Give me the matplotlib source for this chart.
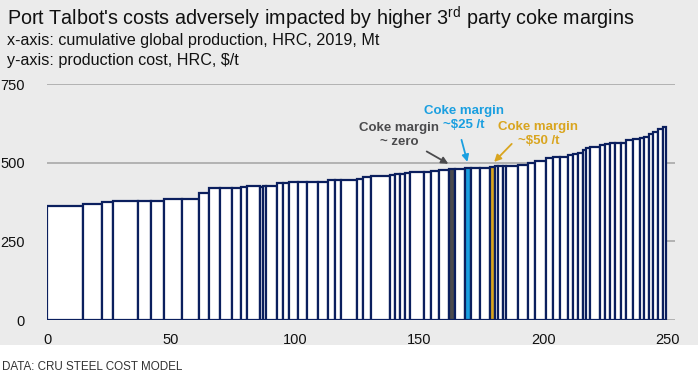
import numpy as np
import matplotlib.pyplot as plt

plt.rcParams['font.family'] = ['Liberation Sans', 'DejaVu Sans']
plt.rcParams['mathtext.fontset'] = 'custom'
plt.rcParams['mathtext.rm'] = 'Liberation Sans'

# capacity (Mt) and production cost ($/t) of each plant, sorted by cost
capacity = [14.6, 7.7, 4.1, 10.4, 5.1, 5.3, 7.0, 6.9, 4.2, 4.3, 4.8, 3.6, 2.6, 5.1,
            1.3, 1.4, 4.1, 2.4, 2.6, 3.7, 3.6, 4.4, 4.0, 2.7, 2.5, 6.3, 2.6, 3.1,
            7.7, 2.0, 2.0, 2.0, 2.3, 5.4, 2.7, 3.4, 4.1, 2.3, 4.0, 2.7, 3.3, 4.0,
            2.1, 1.3, 2.0, 1.4, 4.6, 4.1, 2.7, 4.7, 2.6, 2.7, 3.4, 2.0, 2.0, 2.0,
            1.4, 1.3, 4.0, 2.0, 2.1, 2.0, 2.7, 2.0, 2.6, 2.7, 2.0, 1.8, 1.6, 2.0,
            2.0, 1.4]
cost = [362, 369, 374, 379, 379, 379, 384, 384, 403, 418, 418, 420, 422, 426,
        424, 426, 426, 434, 434, 438, 438, 439, 439, 445, 445, 445, 449, 453,
        457, 461, 464, 464, 466, 469, 469, 473, 477, 480, 481, 484, 484, 484,
        486, 488, 490, 490, 490, 493, 498, 506, 515, 518, 518, 524, 527, 532,
        540, 546, 551, 555, 558, 561, 563, 563, 572, 574, 577, 582, 590, 596,
        606, 614]

zero_idx, c25_idx, c50_idx = 37, 39, 42

navy = '#0b1f5e'
grey = '#4b4b4d'
blue = '#1a9fe0'
gold = '#d9a51f'
bg = '#ebebeb'

W, H = 698, 375
fig = plt.figure(figsize=(W / 100, H / 100), dpi=100, facecolor='white')
fig.patches.append(plt.Rectangle((0, 1 - 345 / H), 1, 345 / H, transform=fig.transFigure,
                                 facecolor=bg, edgecolor='none', zorder=-10))

ax = fig.add_axes([47 / W, 1 - 320 / H, (675 - 47) / W, (320 - 84) / H])
ax.patch.set_alpha(0)

left = np.concatenate([[0], np.cumsum(capacity)[:-1]])
faces = ['white'] * len(cost)
faces[zero_idx] = grey
faces[c25_idx] = blue
faces[c50_idx] = gold
ax.bar(left, cost, width=capacity, align='edge', color=faces, edgecolor=navy,
       linewidth=1.6, zorder=3)

ax.set_xlim(0, 253)
ax.set_ylim(0, 750)
ax.set_xticks([0, 50, 100, 150, 200, 250])
ax.set_yticks([0, 250, 500, 750])
ax.grid(axis='y', color='#a3a3a3', linewidth=1.1, zorder=1)
ax.tick_params(length=0, labelsize=10.5, colors='#111111')
ax.tick_params(axis='y', pad=16)
ax.tick_params(axis='x', pad=9)
for s in ax.spines.values():
    s.set_visible(False)

def mid(i):
    return left[i] + capacity[i] / 2

bold = dict(fontsize=9.5, fontweight='bold', ha='center', va='center', linespacing=1.2)
ax.text(142, 589, 'Coke margin\n~ zero', color=grey, **bold)
ax.annotate('', xy=(mid(zero_idx) - 0.5, cost[zero_idx] + 12), xytext=(152, 540),
            arrowprops=dict(arrowstyle='-|>', color=grey, lw=1.3, mutation_scale=10))
ax.text(168, 643, 'Coke margin\n~$25 /t', color=blue, **bold)
ax.annotate('', xy=(mid(c25_idx), cost[c25_idx] + 10), xytext=(166.7, 581),
            arrowprops=dict(arrowstyle='-|>', color=blue, lw=1.3, mutation_scale=10))
ax.text(198, 591, 'Coke margin\n~$50 /t', color=gold, **bold)
ax.annotate('', xy=(mid(c50_idx), cost[c50_idx] + 10), xytext=(188, 566),
            arrowprops=dict(arrowstyle='-|>', color=gold, lw=1.3, mutation_scale=10))

fig.text(7 / W, 1 - 18 / H, "Port Talbot's costs adversely impacted by higher 3$^{\\mathrm{rd}}$ party coke margins",
         fontsize=14.2, va='center', color='#111111')
fig.text(7 / W, 1 - 40 / H, 'x-axis: cumulative global production, HRC, 2019, Mt',
         fontsize=11.6, va='center', color='#111111')
fig.text(7 / W, 1 - 61 / H, 'y-axis: production cost, HRC, $/t',
         fontsize=11.6, va='center', color='#111111')
fig.text(2 / W, 1 - 367 / H, 'DATA: CRU STEEL COST MODEL', fontsize=8.4, va='center',
         color='#333333')

fig.savefig('out.png', dpi=100, facecolor='white')
